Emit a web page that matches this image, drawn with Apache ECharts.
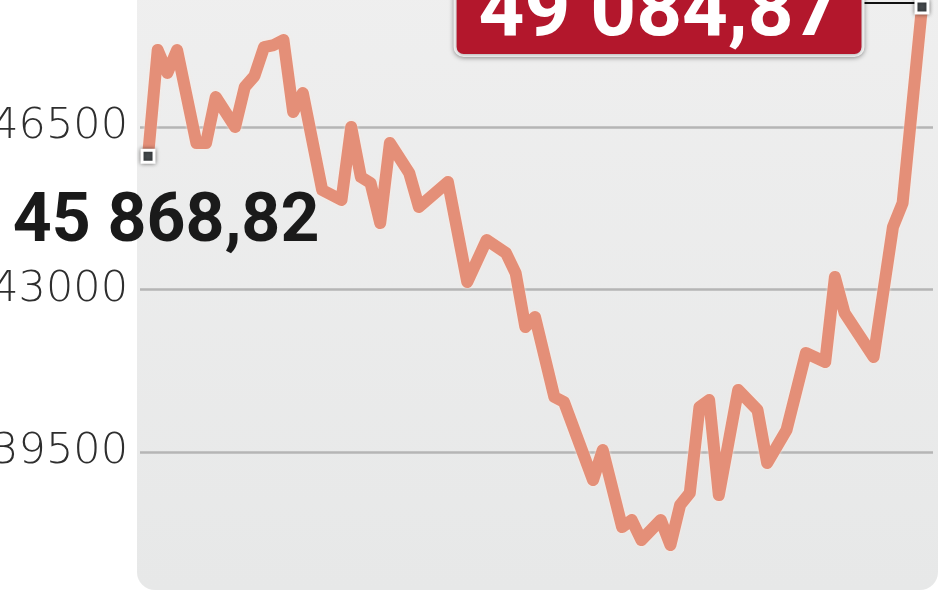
<!DOCTYPE html>
<html><head><meta charset="utf-8">
<script src="https://cdn.jsdelivr.net/npm/echarts@6/dist/echarts.min.js"></script>
<style>html,body{margin:0;padding:0;background:#fff;overflow:hidden}#c{width:948px;height:593px}</style>
</head><body><div id="c"></div>
<script>
// trading-day index of each turning point
const days = [0,1,2,3,5,6,7,9,10,11,12,13,14,15,16,18,20,21,22,23,24,25,27,28,31,33,35,37,38,39,40,42,43,46,47,49,50,51,53,54,55,56,57,58,59,61,63,64,66,68,70,71,72,75,77,78,80];
// index value at those days
const values = [45868.82,48159,47663,48159,46155,46155,47146,46500,47362,47600,48223,48266,48374,46823,47232,45143,44928,46500,45423,45294,44432,46155,45509,44777,45315,43161,44066,43786,43355,42192,42407,40684,40576,38896,39542,37884,38035,37604,38035,37496,38358,38616,40469,40620,38573,40835,40404,39262,39973,41632,41438,43269,42494,41546,44346,44863,49084.87];
// y-axis tick labels
const yTicks = [39500, 43000, 46500];

const fmt = v => {
  const [i, d] = v.toFixed(2).split('.');
  return i.replace(/\B(?=(\d{3})+(?!\d))/g, ' ') + ',' + d;
};
const step = yTicks[1] - yTicks[0];
const last = values.length - 1;
const boldFont = "Roboto, 'Liberation Sans', sans-serif";

const markerStyle = {color:'#464b4e', borderColor:'#ffffff', borderWidth:3, shadowBlur:4, shadowColor:'rgba(0,0,0,0.45)'};
const seriesData = days.map((d, i) => {
  const item = {value:[d, values[i]], symbol:'none'};
  if (i === 0) {
    item.symbol = 'rect'; item.symbolSize = 12; item.itemStyle = markerStyle;
    item.label = {show:true, position:'inside', offset:[18, 68], formatter: p => fmt(p.value[1]),
      fontFamily:boldFont, fontWeight:'bold', fontSize:68, color:'#1a1a1a'};
  }
  if (i === last) {
    item.symbol = 'rect'; item.symbolSize = 12; item.itemStyle = markerStyle;
    item.label = {show:true, position:'left', distance:53, offset:[0, 8], formatter: p => fmt(p.value[1]),
      fontFamily:boldFont, fontWeight:'bold', fontSize:80, lineHeight:70, color:'#ffffff', backgroundColor:'#b3172c',
      borderColor:'#ffffff', borderWidth:3, borderRadius:7, padding:[6, 22, 2, 22],
      shadowBlur:5, shadowColor:'rgba(0,0,0,0.35)', shadowOffsetY:1};
  }
  return item;
});

const panel = {type:'rect', z:-10, silent:true,
  shape:{x:137, y:-30, width:801, height:620, r:[0,0,18,18]},
  style:{fill:new echarts.graphic.LinearGradient(0,0,0,1,[{offset:0,color:'#efefef'},{offset:1,color:'#e7e8e8'}])}};

const chart = echarts.init(document.getElementById('c'), null, {renderer:'canvas'});
chart.setOption({
  animation:false,
  backgroundColor:'#ffffff',
  graphic:[panel],
  grid:{left:140, right:15, top:127, bottom:141, containLabel:false, outerBoundsMode:'none'},
  xAxis:{type:'value', min:-0.83, max:81.14, show:false},
  yAxis:{type:'value', min:yTicks[0], max:yTicks[yTicks.length-1], interval:step,
    axisLine:{show:false}, axisTick:{show:false},
    axisLabel:{margin:12, formatter:v => String(v),
      fontFamily:"'DejaVu Sans',sans-serif", fontWeight:200, fontSize:43, color:'#2e2e2e'},
    splitLine:{show:true, lineStyle:{color:'#b5b5b5', width:2.5}}},
  series:[{type:'line', data:seriesData, symbol:'none', showSymbol:true, clip:false,
    lineStyle:{color:'#e48f78', width:12, cap:'round', join:'round',
      shadowBlur:3, shadowColor:'rgba(255,235,225,0.9)'},
    z:3}]
});
// connector from the end label to the last point, placed through the chart's own scale
const endPt = chart.convertToPixel({gridIndex:0}, [days[last], values[last]]);
chart.setOption({graphic:[panel, {type:'line', z:1, silent:true,
  shape:{x1:endPt[0] - 6, y1:endPt[1] - 4, x2:endPt[0] - 60, y2:endPt[1] - 4},
  style:{stroke:'#111111', lineWidth:2}}]});
</script></body></html>
